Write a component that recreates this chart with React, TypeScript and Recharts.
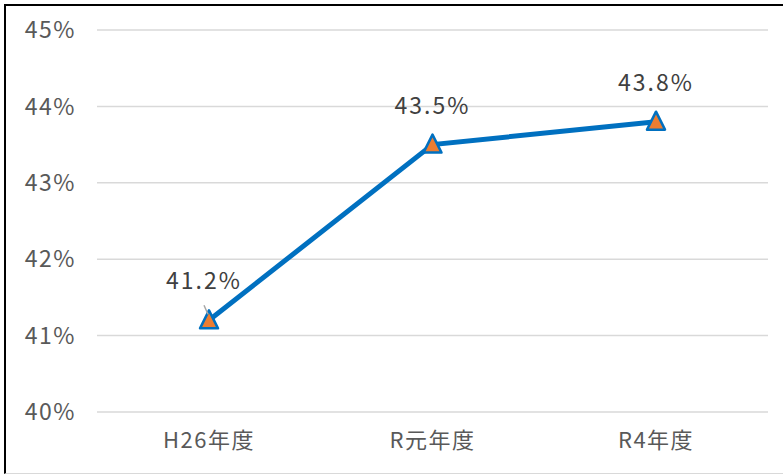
import { LineChart, Line, XAxis, YAxis, CartesianGrid, LabelList } from "recharts";

const years = ["H26年度", "R元年度", "R4年度"];
const rates = [41.2, 43.5, 43.8];
const yTicks = [40, 41, 42, 43, 44, 45];

const data = years.map((year, i) => ({ year, rate: rates[i] }));

const BLUE = "#0070C0";
const ORANGE = "#ED7D31";
const FONT = "'Noto Sans CJK JP', 'Noto Sans', sans-serif";

function Triangle(props: { cx?: number; cy?: number; index?: number }) {
  const { cx, cy, index } = props;
  if (cx == null || cy == null) return null;
  const pts = `${cx},${cy - 10} ${cx + 9},${cy + 8} ${cx - 9},${cy + 8}`;
  return <polygon key={index} points={pts} fill={ORANGE} stroke={BLUE} strokeWidth={2.5} strokeLinejoin="round" />;
}

function RateLabel(props: { x?: number; y?: number; value?: number; index?: number }) {
  const { x, y, value, index } = props;
  if (x == null || y == null) return null;
  return (
    <g>
      {index === 0 && <line x1={x - 5} y1={y - 15} x2={x - 1} y2={y - 6} stroke="#a6a6a6" strokeWidth={1.5} />}
      <text
        x={x - (index === 0 ? 5 : 0)}
        y={y - 31}
        textAnchor="middle"
        fill="#404040"
        fontSize={23}
        fontFamily={FONT}
        letterSpacing={2}
      >
        {`${Number(value).toFixed(1)}%`}
      </text>
    </g>
  );
}

export default function App() {
  return (
    <div style={{ position: "absolute", left: 0, top: 0, width: 783, height: 475, background: "#fff", overflow: "hidden" }}>
      <div
        style={{
          position: "absolute",
          left: 4,
          top: 4,
          width: 800,
          height: 467,
          borderLeft: "2px solid #000",
          borderTop: "2px solid #000",
          borderBottom: "1px solid #d9d9d9",
        }}
      />
      <div style={{ position: "absolute", left: 0, top: 0 }}>
        <LineChart width={783} height={475} data={data} margin={{ top: 30, right: 15, bottom: 33, left: 17 }}>
          <CartesianGrid vertical={false} stroke="#d9d9d9" strokeWidth={1.5} />
          <XAxis
            dataKey="year"
            padding={{ left: 112, right: 112 }}
            axisLine={false}
            tickLine={false}
            tickSize={0}
            tickMargin={20}
            tick={{ fontSize: 22, fill: "#595959", fontFamily: FONT, letterSpacing: 1.5 }}
          />
          <YAxis
            width={80}
            domain={[40, 45]}
            ticks={yTicks}
            tickFormatter={(v: number) => `${v}%`}
            axisLine={false}
            tickLine={false}
            tickSize={0}
            tickMargin={21}
            tick={{ fontSize: 23, fill: "#595959", fontFamily: FONT, letterSpacing: 1.5 }}
          />
          <Line
            dataKey="rate"
            stroke={BLUE}
            strokeWidth={5}
            dot={<Triangle />}
            activeDot={false}
            isAnimationActive={false}
          >
            <LabelList dataKey="rate" content={<RateLabel />} />
          </Line>
        </LineChart>
      </div>
    </div>
  );
}
